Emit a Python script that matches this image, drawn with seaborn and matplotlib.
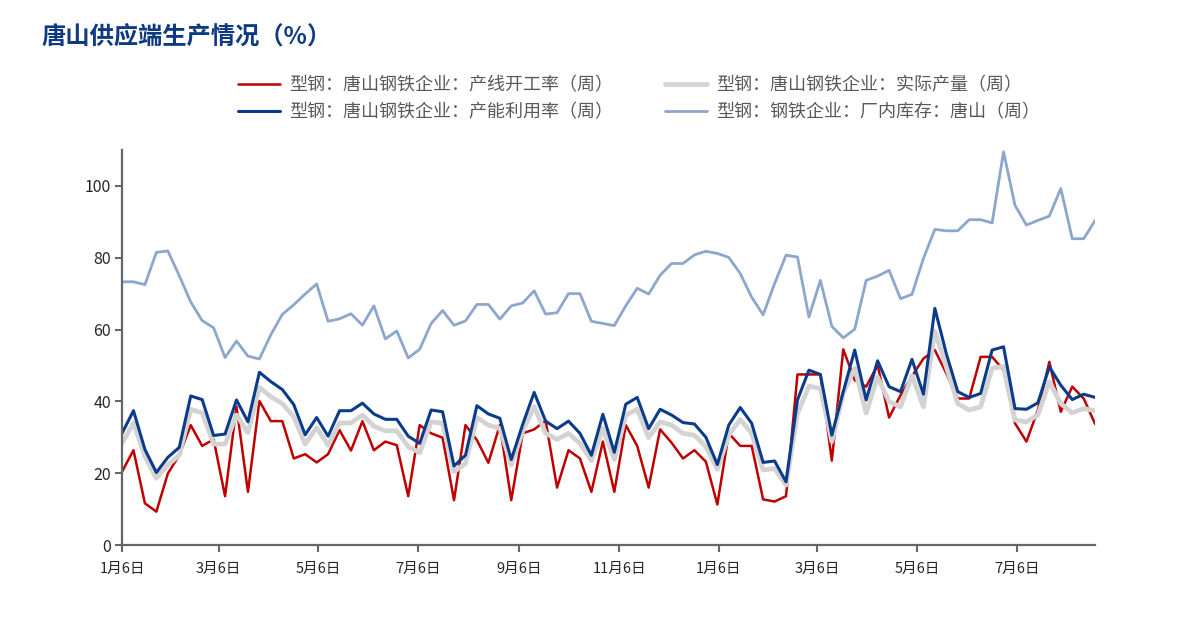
import matplotlib
matplotlib.use('Agg')
import matplotlib.pyplot as plt
import pandas as pd
import seaborn as sns

# Weekly data
dates = pd.date_range('2023-01-06', periods=86, freq='7D')

line_rate = [20.4, 26.4, 11.6, 9.3, 19.9, 25.0, 33.4, 27.6, 29.4, 13.6,
             38.5, 14.8, 40.1, 34.5, 34.5, 24.1, 25.3, 23.0, 25.3, 32.0,
             26.3, 34.5, 26.4, 28.8, 27.8, 13.6, 33.4, 31.1, 29.9, 12.5,
             33.4, 29.2, 22.9, 33.4, 12.5, 31.1, 32.2, 34.6, 16.0, 26.4,
             24.1, 14.8, 28.8, 14.8, 33.4, 27.6, 16.0, 32.2, 28.5, 24.1,
             26.4, 23.2, 11.3, 31.1, 27.6, 27.6, 12.7, 12.1, 13.6, 47.5,
             47.5, 47.5, 23.5, 54.5, 45.9, 44.1, 50.1, 35.5, 41.7, 47.0,
             51.9, 54.3, 47.8, 40.8, 40.8, 52.4, 52.4, 48.7, 33.9, 28.8,
             37.6, 51.0, 37.1, 44.1, 40.8, 33.7]

output = [28.3, 34.0, 24.6, 18.6, 22.3, 25.0, 37.8, 36.8, 28.1, 28.1,
          36.2, 31.3, 43.9, 41.3, 39.4, 35.7, 28.1, 32.7, 27.8, 34.0,
          34.0, 36.2, 33.1, 31.8, 31.8, 27.4, 25.7, 34.3, 33.9, 20.4,
          22.7, 35.5, 33.4, 32.5, 22.3, 31.7, 38.5, 31.1, 29.4, 31.1,
          28.3, 23.5, 32.5, 23.8, 36.2, 37.8, 29.9, 34.3, 33.4, 31.1,
          30.6, 27.4, 21.1, 30.6, 35.0, 31.1, 20.9, 21.3, 16.7, 36.6,
          44.2, 43.6, 28.8, 42.3, 49.2, 36.8, 46.8, 39.9, 38.5, 47.2,
          38.5, 59.6, 49.6, 39.4, 37.6, 38.5, 49.2, 49.8, 34.8, 34.3,
          36.2, 45.5, 39.4, 36.8, 38.0, 37.4]

capacity_use = [31.1, 37.4, 26.6, 20.2, 24.4, 27.2, 41.5, 40.5, 30.5, 30.9,
                40.4, 34.3, 48.1, 45.5, 43.3, 39.1, 30.7, 35.5, 30.3, 37.4,
                37.4, 39.5, 36.5, 35.0, 35.0, 30.3, 28.3, 37.6, 37.1, 22.0,
                25.0, 38.8, 36.5, 35.3, 23.8, 33.6, 42.5, 34.5, 32.4, 34.5,
                31.1, 25.0, 36.4, 25.8, 39.2, 41.1, 32.4, 37.8, 36.2, 34.1,
                33.7, 30.0, 22.4, 33.4, 38.3, 33.9, 23.0, 23.4, 17.6, 40.4,
                48.7, 47.5, 30.6, 42.7, 54.3, 40.4, 51.3, 44.1, 42.7, 51.7,
                42.0, 65.9, 53.3, 42.7, 41.1, 42.2, 54.3, 55.2, 38.0, 37.8,
                39.6, 49.6, 44.5, 40.5, 42.0, 41.1]

inventory = [73.3, 73.3, 72.5, 81.5, 81.9, 75.0, 67.7, 62.5, 60.5, 52.2,
             56.8, 52.6, 51.8, 58.6, 64.2, 66.9, 69.9, 72.7, 62.3, 63.0,
             64.4, 61.2, 66.6, 57.4, 59.6, 52.1, 54.5, 61.7, 65.3, 61.2,
             62.4, 67.0, 67.0, 62.9, 66.6, 67.4, 70.8, 64.3, 64.7, 70.0,
             70.0, 62.3, 61.7, 61.1, 66.6, 71.5, 69.9, 75.1, 78.4, 78.4,
             80.8, 81.8, 81.2, 80.1, 75.6, 69.0, 64.1, 72.8, 80.7, 80.2,
             63.5, 73.7, 60.9, 57.7, 60.1, 73.7, 74.9, 76.5, 68.6, 69.8,
             79.8, 87.9, 87.5, 87.5, 90.6, 90.6, 89.7, 109.5, 94.6, 89.1,
             90.4, 91.6, 99.3, 85.3, 85.3, 90.4]

labels = ['型钢：唐山钢铁企业：产线开工率（周）',
          '型钢：唐山钢铁企业：实际产量（周）',
          '型钢：唐山钢铁企业：产能利用率（周）',
          '型钢：钢铁企业：厂内库存：唐山（周）']

tick_dates = pd.to_datetime(['2023-01-06', '2023-03-06', '2023-05-06', '2023-07-06',
                             '2023-09-06', '2023-11-06', '2024-01-06', '2024-03-06',
                             '2024-05-06', '2024-07-06'])
tick_labels = ['1月6日', '3月6日', '5月6日', '7月6日', '9月6日',
               '11月6日', '1月6日', '3月6日', '5月6日', '7月6日']

sns.set_style('white')
plt.rcParams['font.family'] = ['Noto Sans CJK SC', 'DejaVu Sans']

fig = plt.figure(figsize=(11.94, 6.33), dpi=100)
ax = fig.add_axes([0.1022, 0.139, 0.815, 0.624])

series = [line_rate, output, capacity_use, inventory]
colors = ['#C00000', '#D3D3D3', '#0B3C8A', '#8CA6CC']
widths = [1.8, 3.4, 2.2, 2.0]
handles = []
for vals, col, lw, lab in zip(series, colors, widths, labels):
    sns.lineplot(x=dates, y=vals, ax=ax, color=col, linewidth=lw, label=lab)
    handles.append(ax.get_lines()[-1])
ax.get_legend().remove()

ax.set_xlim(dates[0], dates[-1])
ax.set_ylim(0, 110)
ax.set_yticks([0, 20, 40, 60, 80, 100])
ax.set_xticks(tick_dates)
ax.set_xticklabels(tick_labels, fontsize=10.5)
ax.tick_params(axis='y', labelsize=11.5, length=5, width=1.5, color='#666666',
               left=True, pad=3)
ax.tick_params(axis='x', length=5, width=1.5, color='#666666', bottom=True, pad=7)
ax.set_xlabel('')
ax.set_ylabel('')

for s in ['top', 'right']:
    ax.spines[s].set_visible(False)
for s in ['left', 'bottom']:
    ax.spines[s].set_color('#666666')
    ax.spines[s].set_linewidth(1.6)

fig.text(0.035, 0.94, '唐山供应端生产情况（%）', fontsize=17.5, fontweight='bold',
         color='#0E3A84', va='center')

# legend: red / dark blue in first column, grey / light blue in second
order = [0, 2, 1, 3]
leg = fig.legend([handles[i] for i in order], [labels[i] for i in order],
                 ncol=2, loc='upper left', bbox_to_anchor=(0.186, 0.905),
                 frameon=False, fontsize=13, handlelength=2.3, handletextpad=0.5,
                 columnspacing=2.9, labelspacing=0.5)
for t in leg.get_texts():
    t.set_color('#595959')

fig.savefig('out.png', dpi=100)
